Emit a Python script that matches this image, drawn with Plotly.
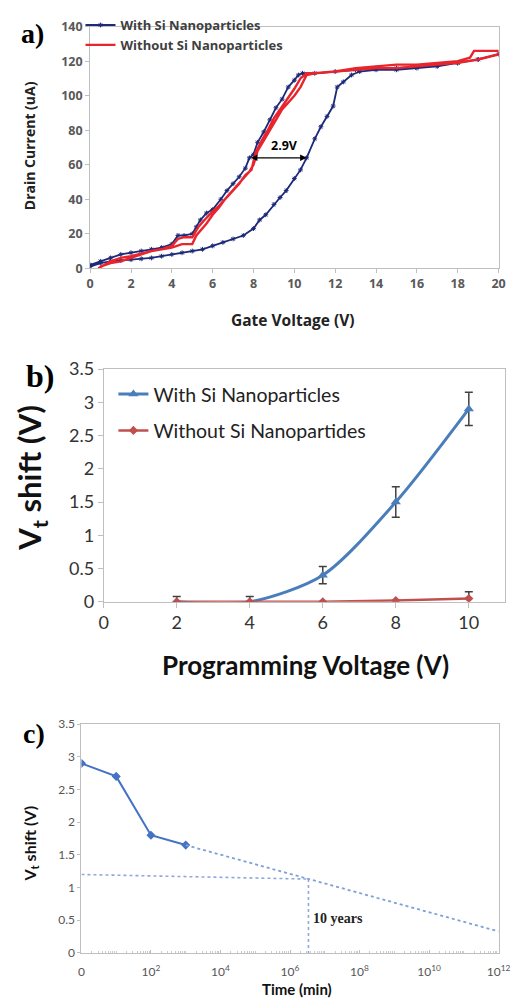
import plotly.graph_objects as go

W, H = 527, 1007

# ---------------- Panel a data ----------------
a_with_x = [0, 0.5, 1, 1.5, 2, 2.5, 3, 3.5, 4, 4.5, 5, 5.5, 6, 6.5, 7, 7.5, 8, 8.3, 8.6, 9, 9.3, 9.6, 10,
            10.3, 10.6, 11, 11.3, 11.6, 11.9, 12.1, 12.4, 12.8, 13.2, 14, 15, 16, 17, 18, 19, 20,
            19, 18, 17, 16, 15, 14, 13, 12, 11, 10.4, 10.2, 10, 9.7, 9.4, 9.1, 8.8, 8.5, 8.2, 8, 7.8,
            7.6, 7.3, 7, 6.7, 6.4, 6, 5.7, 5.4, 5.2, 5, 4.6, 4.3, 4, 3.5, 3, 2.5, 2, 1.5, 1, 0.5, 0]
a_with_y = [1, 3, 4, 4.5, 5, 5.5, 6, 7, 8, 9, 10, 11, 13, 15, 17, 19, 23, 28, 31, 37, 41, 45, 52,
            57, 64, 75, 82, 88, 94, 105, 108, 112, 114, 115, 115, 116, 117, 119, 121, 124,
            121, 119, 118, 117, 116, 116, 115, 114, 113, 113, 112, 109, 105, 98, 93, 86, 79, 73, 66, 64,
            58, 53, 49, 45, 40, 34, 32, 28, 24, 20, 19, 19, 14, 12, 11, 10, 9, 8, 6, 4, 2]

a_without_x = [0.4, 1, 1.5, 2, 2.5, 3, 3.5, 4, 4.3, 4.6, 5, 5.3, 5.6, 6, 6.3, 6.6, 7, 7.3, 7.6, 7.9,
               8.1, 8.4, 8.7, 9, 9.3, 9.6, 10, 10.3, 10.6, 11, 12, 13, 14, 15, 16, 17, 18, 18.6, 18.8,
               19.5, 20,
               20, 19, 18, 17, 16, 15, 14, 13, 12, 11, 10.6, 10.3, 10, 9.7, 9.4, 9.1, 8.8, 8.5, 8.2, 8,
               7.8, 7.5, 7.2, 6.9, 6.6, 6.3, 6, 5.7, 5.4, 5.2, 5, 4.5, 4, 3.5, 3, 2.5, 2, 1.5, 1, 0.5]
a_without_y = [0, 4, 6, 7, 8.5, 10, 11, 13, 17, 18, 18, 24, 28, 33, 36, 40, 45, 49, 54, 57,
               67, 74, 80, 87, 92, 97, 104, 110, 113, 113, 114, 116, 117, 118, 118, 119, 120, 122, 126,
               126, 126,
               124, 121, 119, 118, 117, 116, 116, 115, 114, 113, 112, 105, 100, 96, 92, 86, 80, 74, 68, 60,
               56, 52, 48, 44, 40, 35, 31, 26, 22, 19, 14, 14, 12, 11, 10, 8, 6, 4, 3, 1]

a_shift_left, a_shift_right, a_shift_level = 7.8, 10.6, 64
a_shift_label = "2.9V"

# ---------------- Panel b data ----------------
b_x = [2, 4, 6, 8, 10]
b_with = [0, 0, 0.4, 1.5, 2.9]
b_with_err = [0.08, 0.08, 0.13, 0.23, 0.25]
b_without = [0, 0, 0, 0.02, 0.05]
b_without_err = [0, 0, 0, 0, 0.1]

# ---------------- Panel c data ----------------
c_time = [1, 10, 100, 1000]
c_shift = [2.9, 2.7, 1.8, 1.65]
c_extrap_time = [1000, 1e12]
c_extrap_shift = [1.65, 0.33]
c_ref_time = [1, 3.4e6]
c_ref_shift = [1.2, 1.13]
c_ten_years = 3.4e6
c_tickvals = [1, 1e2, 1e4, 1e6, 1e8, 1e10, 1e12]
c_ticktext = ["0", "10<sup>2</sup>", "10<sup>4</sup>", "10<sup>6</sup>", "10<sup>8</sup>",
              "10<sup>10</sup>", "10<sup>12</sup>"]

NAVY = "#1c2a78"
RED = "#e8242c"
BLUE_B = "#4a7ebb"
RED_B = "#c0504d"
BLUE_C = "#4472c4"
FRAME = "#bfbfbf"


def px_x(p):
    return p / W


def px_y(p):
    return 1 - p / H


fig = go.Figure()

# Panel a
fig.add_trace(go.Scatter(x=a_with_x, y=a_with_y, mode="lines+markers", name="With Si Nanoparticles",
                         line=dict(color=NAVY, width=1.8),
                         marker=dict(symbol="asterisk-open", size=4, color=NAVY, line=dict(width=1, color="#7d8cc8")),
                         xaxis="x", yaxis="y", legend="legend"))
fig.add_trace(go.Scatter(x=a_without_x, y=a_without_y, mode="lines", name="Without Si Nanoparticles",
                         line=dict(color=RED, width=2.4),
                         xaxis="x", yaxis="y", legend="legend"))

# Panel b
fig.add_trace(go.Scatter(x=b_x, y=b_with, mode="lines+markers", name="With Si Nanoparticles",
                         line=dict(color=BLUE_B, width=3, shape="spline", smoothing=0.8),
                         marker=dict(symbol="triangle-up", size=9, color=BLUE_B),
                         error_y=dict(type="data", array=b_with_err, color="#404040", thickness=1.5, width=4),
                         xaxis="x2", yaxis="y2", legend="legend2", legendgroup="w"))
fig.add_trace(go.Scatter(x=b_x, y=b_without, mode="lines+markers", name="Without Si Nanopartides",
                         line=dict(color=RED_B, width=2.5),
                         marker=dict(symbol="diamond", size=7, color=RED_B),
                         error_y=dict(type="data", array=b_without_err, color="#404040", thickness=1.5, width=4),
                         xaxis="x2", yaxis="y2", legend="legend2", legendgroup="wo"))

# Panel c
fig.add_trace(go.Scatter(x=c_time, y=c_shift, mode="lines+markers", showlegend=False,
                         line=dict(color=BLUE_C, width=2),
                         marker=dict(symbol="diamond", size=7, color=BLUE_C),
                         xaxis="x3", yaxis="y3"))
fig.add_trace(go.Scatter(x=c_extrap_time, y=c_extrap_shift, mode="lines", showlegend=False,
                         line=dict(color="#7f9fd8", width=1.8, dash="dot"),
                         xaxis="x3", yaxis="y3"))
fig.add_trace(go.Scatter(x=c_ref_time, y=c_ref_shift, mode="lines", showlegend=False,
                         line=dict(color="#8fa8dc", width=1.6, dash="dot"),
                         xaxis="x3", yaxis="y3"))
fig.add_trace(go.Scatter(x=[c_ten_years, c_ten_years], y=[c_ref_shift[-1], 0], mode="lines", showlegend=False,
                         line=dict(color="#8fa8dc", width=1.6, dash="dot"),
                         xaxis="x3", yaxis="y3"))

ax_common = dict(showline=True, linecolor=FRAME, linewidth=1, mirror=True, showgrid=False,
                 zeroline=False, ticks="outside", ticklen=4, tickcolor=FRAME)

fontA = dict(family="Open Sans", size=12.5, color="#595959", weight="bold")
fontB = dict(family="Lato", size=18, color="#333333")
fontC = dict(family="Lato", size=12, color="#555555")

fig.update_layout(
    width=W, height=H, margin=dict(l=0, r=0, t=0, b=0),
    paper_bgcolor="white", plot_bgcolor="white",
    xaxis=dict(ax_common, domain=[px_x(88), px_x(510)], range=[0, 20], dtick=2, anchor="y",
               tickfont=fontA),
    yaxis=dict(ax_common, domain=[px_y(262), px_y(15)], range=[0, 140], dtick=20, anchor="x",
               tickfont=fontA),
    xaxis2=dict(ax_common, domain=[px_x(102), px_x(517)], range=[0, 11], tickvals=[0, 2, 4, 6, 8, 10],
                anchor="y2", tickfont=fontB, ticklen=5),
    yaxis2=dict(ax_common, domain=[px_y(603), px_y(365)], range=[0, 3.5], dtick=0.5, anchor="x2",
                tickfont=fontB, ticklen=5),
    xaxis3=dict(ax_common, domain=[px_x(79), px_x(510)], type="log", range=[0, 12],
                tickvals=c_tickvals, ticktext=c_ticktext, anchor="y3", tickfont=fontC, ticks="inside",
                ticklen=3, ticklabelstandoff=8,
                minor=dict(ticks="inside", ticklen=2, dtick="D1", tickcolor="#cccccc")),
    yaxis3=dict(ax_common, domain=[px_y(962), px_y(728)], range=[0, 3.5], dtick=0.5, anchor="x3",
                tickfont=fontC, ticklen=3),
    legend=dict(x=px_x(78), y=px_y(-2), xanchor="left", yanchor="top", bgcolor="rgba(0,0,0,0)",
                font=dict(family="Open Sans", size=13, color="#404040", weight="bold"), itemwidth=30,
                tracegroupgap=0),
    legend2=dict(x=px_x(112), y=px_y(371), xanchor="left", yanchor="top", bgcolor="rgba(0,0,0,0)",
                 font=dict(family="Lato", size=19.5, color="#222222"), itemwidth=30,
                 tracegroupgap=8),
    showlegend=True,
)


def note(text, x, y, size, family="Open Sans", angle=0, color="#222222", weight="bold"):
    return dict(text=text, x=px_x(x), y=px_y(y), xref="paper", yref="paper", showarrow=False,
                xanchor="center", yanchor="middle", textangle=angle,
                font=dict(family=family, size=size, color=color, weight=weight))


annotations = [
    # panel labels
    note("a)", 28, 22, 28, family="Liberation Serif", color="black"),
    note("b)", 36, 372, 32, family="Liberation Serif", color="black"),
    note("c)", 30, 738, 28, family="Liberation Serif", color="black"),
    # axis titles
    note("Drain Current (uA)", 25, 137, 14, angle=-90),
    note("Gate Voltage (V)", 298, 315, 15.5),
    note("V<sub>t</sub> shift (V)", 28, 476, 31, family="Lato", angle=-90, color="#111111"),
    note("Programming Voltage (V)", 311, 668, 26, family="Lato", color="#111111"),
    note("V<sub>t</sub> shift (V)", 26, 850, 16, family="Lato", angle=-90, color="#111111"),
    note("Time (min)", 302, 999, 15, family="Lato", color="#111111"),
    # panel a arrow and label
    dict(x=a_shift_right, y=a_shift_level, ax=a_shift_left, ay=a_shift_level, xref="x", yref="y",
         axref="x", ayref="y", showarrow=True, arrowhead=2, arrowside="end+start", arrowsize=1,
         arrowwidth=1.3, arrowcolor="black", text=""),
    dict(text=a_shift_label, x=(a_shift_left + a_shift_right) / 2 + 0.3,
         y=a_shift_level + 7, xref="x", yref="y", showarrow=False, yanchor="middle",
         font=dict(family="Open Sans", size=12.5, color="black", weight="bold")),
    # panel c label
    dict(text="10 years", x=6.6, y=0.52, xref="x3", yref="y3", showarrow=False,
         xanchor="left", yanchor="middle",
         font=dict(family="Liberation Serif", size=14, color="#222222", weight="bold")),
]
fig.update_layout(annotations=annotations)

fig.write_html("out.html")
